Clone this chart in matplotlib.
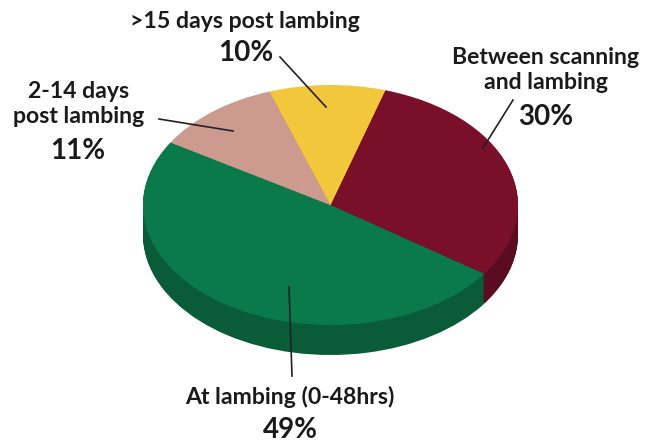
import matplotlib
matplotlib.use("Agg")
import matplotlib.pyplot as plt

# Slices, clockwise from the yellow/maroon border
values = [30, 49, 11, 10]
pct_labels = ["30%", "49%", "11%", "10%"]
cat_labels = ["Between scanning\nand lambing", "At lambing (0-48hrs)", "2-14 days\npost lambing", ">15 days post lambing"]
top_colors = ["#7A0F2A", "#0B7A4B", "#CD9A90", "#F2C73C"]
side_colors = ["#5A0C20", "#0A5C38", "#A87C74", "#C9A32F"]

W, H = 650, 445
CX, CY = 330.5, 205   # pie centre in pixels
RX, RY = 187.5, 120
DEPTH = 30
START = 73

plt.rcParams["font.family"] = ["Lato", "DejaVu Sans"]

fig = plt.figure(figsize=(W / 100, H / 100), dpi=100, facecolor="white")

# axis scaled so a unit circle comes out as the ellipse
ax = fig.add_axes([0, 0, 1, 1])
for d in range(DEPTH, 0, -1):
    ax.pie(values, colors=side_colors, startangle=START, counterclock=False,
           center=(0, -d / RY), radius=1, frame=True)
ax.pie(values, colors=top_colors, startangle=START, counterclock=False,
       center=(0, 0), radius=1, frame=True)
ax.set_aspect("auto")
ax.set_xlim(-CX / RX, (W - CX) / RX)
ax.set_ylim(-(H - CY) / RY, CY / RY)
ax.axis("off")

# overlay in pixel coordinates for the labels and leader lines
ov = fig.add_axes([0, 0, 1, 1])
ov.set_xlim(0, W)
ov.set_ylim(H, 0)
ov.axis("off")
ov.patch.set_alpha(0)

# leader lines
ov.plot([280, 326], [57, 107], color="#222222", lw=1.2)
ov.plot([159, 233], [119, 131], color="#222222", lw=1.2)
ov.plot([513, 483], [100, 148], color="#222222", lw=1.2)
ov.plot([289, 292], [287, 376], color="#222222", lw=1.2)

txt = dict(ha="center", va="center", color="#1a1a1a", fontweight="bold")
ov.text(546, 70, cat_labels[0], fontsize=16.6, linespacing=1.2, **txt)
ov.text(546, 117, pct_labels[0], fontsize=20, **txt)
ov.text(290, 397, cat_labels[1], fontsize=16.6, **txt)
ov.text(290, 430, pct_labels[1], fontsize=20, **txt)
ov.text(79, 104, cat_labels[2], fontsize=16.6, linespacing=1.2, **txt)
ov.text(78, 151, pct_labels[2], fontsize=20, **txt)
ov.text(245, 21, cat_labels[3], fontsize=16.6, **txt)
ov.text(246, 53, pct_labels[3], fontsize=20, **txt)

fig.savefig("out.png", dpi=100, facecolor="white")
